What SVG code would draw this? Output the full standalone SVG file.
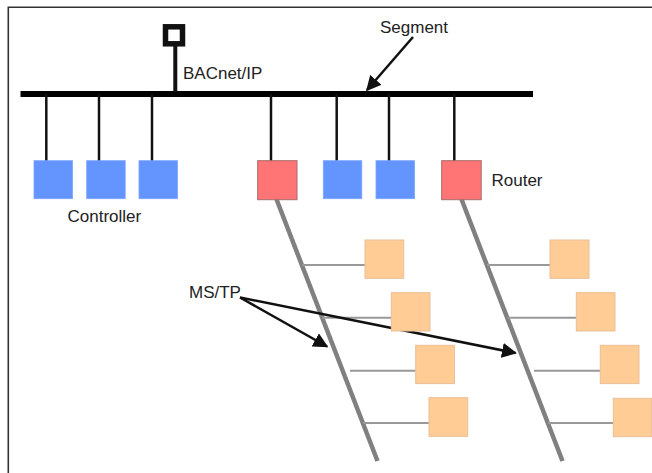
<svg xmlns="http://www.w3.org/2000/svg" width="652" height="473" viewBox="0 0 652 473">
<defs>
<style>
.t{font-family:"Liberation Sans",Arial,sans-serif;font-size:17px;fill:#222}
.drop{stroke:#111;stroke-width:2.5}
.blue{fill:#6495FF;stroke:#7aa4ff;stroke-width:0.8}
.red{fill:#FF7575;stroke:#a86a6a;stroke-width:1}
.org{fill:#FFCC96;stroke:#e9bf95;stroke-width:1}
.ms{stroke:#808080;stroke-width:4.5;stroke-linecap:butt}
.br{stroke:#999;stroke-width:2}
.arr{stroke:#111;stroke-width:2.5;fill:none}
</style>
<marker id="ah" viewBox="0 0 10 10" refX="9" refY="5" markerWidth="6" markerHeight="6" markerUnits="strokeWidth" orient="auto">
<path d="M0,0 L10,5 L0,10 z" fill="#111"/>
</marker>
</defs>
<rect width="652" height="473" fill="#fff"/>
<path d="M8.3,473 V7.3 H652" fill="none" stroke="#333" stroke-width="1.6"/>

<g id="connectors">
<line x1="20.5" y1="94" x2="533" y2="94" stroke="#000" stroke-width="6"/>
<line x1="175.3" y1="45" x2="175.3" y2="92" stroke="#111" stroke-width="4"/>
<line class="drop" x1="46.3" y1="94" x2="46.3" y2="161"/>
<line class="drop" x1="99" y1="94" x2="99" y2="161"/>
<line class="drop" x1="152" y1="94" x2="152" y2="161"/>
<line class="drop" x1="271" y1="94" x2="271" y2="161"/>
<line class="drop" x1="336.7" y1="94" x2="336.7" y2="161"/>
<line class="drop" x1="389" y1="94" x2="389" y2="161"/>
<line class="drop" x1="454.3" y1="94" x2="454.3" y2="161"/>
<line class="ms" x1="276.4" y1="199" x2="377.5" y2="461"/>
<line class="ms" x1="461.4" y1="199" x2="562.5" y2="461"/>
<line class="br" x1="302" y1="265" x2="365" y2="265"/>
<line class="br" x1="322" y1="317.7" x2="391.3" y2="317.7"/>
<line class="br" x1="350" y1="370.7" x2="415.7" y2="370.7"/>
<line class="br" x1="363" y1="423" x2="429" y2="423"/>
<line class="br" x1="487" y1="265" x2="550" y2="265"/>
<line class="br" x1="507.5" y1="317.7" x2="576.3" y2="317.7"/>
<line class="br" x1="534" y1="370.7" x2="600.3" y2="370.7"/>
<line class="br" x1="548" y1="423" x2="613.3" y2="423"/>
<line class="arr" x1="413" y1="37" x2="367" y2="90" marker-end="url(#ah)"/>
<line class="arr" x1="240" y1="297.5" x2="327" y2="346.5" marker-end="url(#ah)"/>
<line class="arr" x1="240" y1="297.5" x2="515.5" y2="353" marker-end="url(#ah)"/>
</g>

<g id="gateway"><rect x="165.5" y="26.8" width="17" height="17" fill="#fff" stroke="#111" stroke-width="5.5"/></g>

<g id="ctrl1"><rect class="blue" x="34" y="160.7" width="38.5" height="38"/></g>
<g id="ctrl2"><rect class="blue" x="86.7" y="160.7" width="38.5" height="38"/></g>
<g id="ctrl3"><rect class="blue" x="139" y="160.7" width="38.5" height="38"/></g>
<g id="router1"><rect class="red" x="257.7" y="160.7" width="39.3" height="39"/></g>
<g id="ctrl4"><rect class="blue" x="323.3" y="160.7" width="38.5" height="38"/></g>
<g id="ctrl5"><rect class="blue" x="376" y="160.7" width="38.5" height="38"/></g>
<g id="router2"><rect class="red" x="441.7" y="160.7" width="39.5" height="39"/></g>

<g id="dev1a"><rect class="org" x="365" y="240" width="38.7" height="38.3"/></g>
<g id="dev1b"><rect class="org" x="391.3" y="292.7" width="38.7" height="38.3"/></g>
<g id="dev1c"><rect class="org" x="415.7" y="345.3" width="38.7" height="38.3"/></g>
<g id="dev1d"><rect class="org" x="429" y="397.7" width="38.7" height="38.6"/></g>
<g id="dev2a"><rect class="org" x="550" y="240" width="39" height="38.3"/></g>
<g id="dev2b"><rect class="org" x="576.3" y="292.7" width="38.7" height="38.3"/></g>
<g id="dev2c"><rect class="org" x="600.3" y="345.3" width="38.7" height="38.3"/></g>
<g id="dev2d"><rect class="org" x="613.3" y="398.3" width="38.4" height="38.4"/></g>

<g id="labels">
<text class="t" x="380" y="33">Segment</text>
<text class="t" x="183" y="79">BACnet/IP</text>
<text class="t" x="67.5" y="222">Controller</text>
<text class="t" x="491.5" y="186">Router</text>
<text class="t" x="189" y="298">MS/TP</text>
</g>
</svg>
